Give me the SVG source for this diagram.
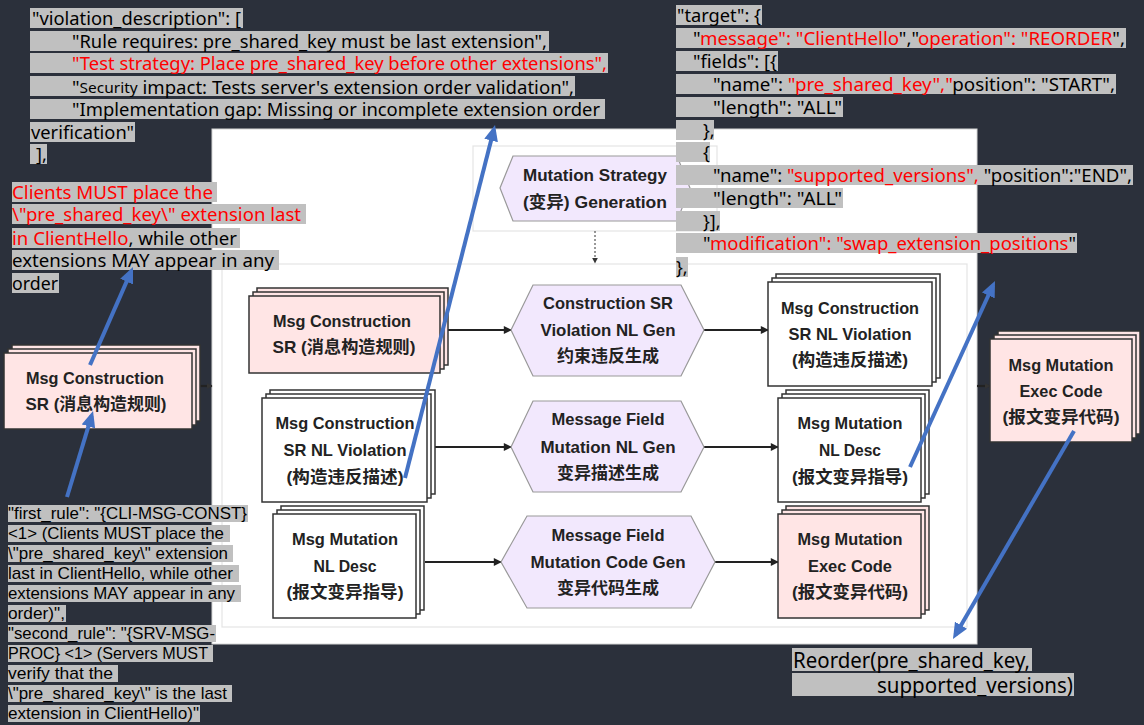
<svg xmlns="http://www.w3.org/2000/svg" width="1144" height="725" viewBox="0 0 1144 725">
<defs>
<style>
.bg{fill:#2b303b}
.panel{fill:#ffffff;stroke:#d6d6d6;stroke-width:1}
.frame{fill:#ffffff;stroke:#e4e4e4;stroke-width:1.2}
.pink{fill:#ffe5e5;stroke:#333;stroke-width:1.5}
.white{fill:#ffffff;stroke:#333;stroke-width:1.5}
.hex{fill:#f2e8fd;stroke:#999;stroke-width:1.2}
.n{font-family:"Liberation Sans","Noto Sans CJK SC",sans-serif;font-size:17px;font-weight:bold;fill:#222;text-anchor:middle;dominant-baseline:central}
.j{font-family:"Noto Sans","Liberation Sans","Noto Sans CJK SC",sans-serif;font-size:18px;fill:#000;dominant-baseline:central}
.s{font-family:"Liberation Sans",sans-serif;font-size:17px;fill:#000;dominant-baseline:central}
.b{font-family:"Noto Sans","Liberation Sans",sans-serif;font-size:21px;fill:#000;dominant-baseline:central}
.r{fill:#ff0000}
.hl{fill:#c0c0c0}
.conn{stroke:#222;stroke-width:2.2;fill:none}
.dot{stroke:#333;stroke-width:1;stroke-dasharray:2,2;fill:none}
.blue{stroke:#4472c4;stroke-width:4;fill:none}
</style>
<marker id="ah" viewBox="0 0 10 10" refX="9" refY="5" markerWidth="9" markerHeight="8" markerUnits="userSpaceOnUse" orient="auto"><path d="M0,0 L10,5 L0,10 z" fill="#222"/></marker>
<marker id="ahs" viewBox="0 0 10 10" refX="9" refY="5" markerWidth="6" markerHeight="6" markerUnits="userSpaceOnUse" orient="auto"><path d="M0,0 L10,5 L0,10 z" fill="#333"/></marker>
<marker id="bh" viewBox="0 0 16 14" refX="11" refY="7" markerWidth="16" markerHeight="14" markerUnits="userSpaceOnUse" orient="auto"><path d="M0,0 L16,7 L0,14 z" fill="#4472c4"/></marker>
</defs>

<rect class="bg" x="0" y="0" width="1144" height="725"/>

<g id="panel">
<rect class="panel" x="212" y="129" width="765" height="515"/>
<rect class="frame" x="473" y="146" width="244" height="85"/>
<rect class="frame" x="222" y="264" width="745" height="363"/>
</g>

<g id="connectors">
<line class="conn" x1="447" y1="330" x2="511" y2="330" marker-end="url(#ah)"/>
<line class="conn" x1="704" y1="330" x2="768" y2="330" marker-end="url(#ah)"/>
<line class="conn" x1="435" y1="447" x2="511" y2="447" marker-end="url(#ah)"/>
<line class="conn" x1="704" y1="447" x2="778" y2="447" marker-end="url(#ah)"/>
<line class="conn" x1="425" y1="562" x2="501" y2="562" marker-end="url(#ah)"/>
<line class="conn" x1="715" y1="562" x2="778" y2="562" marker-end="url(#ah)"/>
<line class="dot" x1="595" y1="231" x2="595" y2="263" marker-end="url(#ahs)"/>
<line class="conn" x1="200" y1="386" x2="212" y2="386" stroke-width="2.5" marker-end="url(#ahs)"/>
<line class="conn" x1="977" y1="386" x2="990" y2="386" stroke-width="2.5" marker-end="url(#ahs)"/>
</g>

<g id="n_outer_left">
<rect class="pink" x="12" y="345" width="188" height="76"/>
<rect class="pink" x="8" y="349" width="188" height="76"/>
<rect class="pink" x="4" y="353" width="188" height="76"/>
<text class="n" x="95" y="378" textLength="138" lengthAdjust="spacingAndGlyphs">Msg Construction</text>
<text class="n" x="96" y="404" textLength="141" lengthAdjust="spacingAndGlyphs">SR (消息构造规则)</text>
</g>

<g id="n_strategy">
<polygon class="hex" points="500,188 513,156 677,156 690,188 677,221 513,221"/>
<text class="n" x="595" y="175" textLength="144" lengthAdjust="spacingAndGlyphs">Mutation Strategy</text>
<text class="n" x="595" y="202" textLength="144" lengthAdjust="spacingAndGlyphs">(变异) Generation</text>
</g>

<g id="n_r1_left">
<rect class="pink" x="257" y="288" width="191" height="77"/>
<rect class="pink" x="253" y="292" width="191" height="77"/>
<rect class="pink" x="249" y="296" width="191" height="77"/>
<text class="n" x="342" y="321" textLength="138" lengthAdjust="spacingAndGlyphs">Msg Construction</text>
<text class="n" x="344" y="347" textLength="143" lengthAdjust="spacingAndGlyphs">SR (消息构造规则)</text>
</g>

<g id="n_r1_hex">
<polygon class="hex" points="511,330 533,285 681,285 704,330 681,376 533,376"/>
<text class="n" x="608" y="303" textLength="130" lengthAdjust="spacingAndGlyphs">Construction SR</text>
<text class="n" x="608" y="330" textLength="135" lengthAdjust="spacingAndGlyphs">Violation NL Gen</text>
<text class="n" x="608" y="356">约束违反生成</text>
</g>

<g id="n_r1_right">
<rect class="white" x="776" y="274" width="164" height="104"/>
<rect class="white" x="772" y="278" width="164" height="104"/>
<rect class="white" x="768" y="282" width="164" height="104"/>
<text class="n" x="850" y="308" textLength="138" lengthAdjust="spacingAndGlyphs">Msg Construction</text>
<text class="n" x="850" y="334" textLength="123" lengthAdjust="spacingAndGlyphs">SR NL Violation</text>
<text class="n" x="850" y="360" textLength="116" lengthAdjust="spacingAndGlyphs">(构造违反描述)</text>
</g>

<g id="n_r2_left">
<rect class="white" x="270" y="390" width="165" height="104"/>
<rect class="white" x="266" y="394" width="165" height="104"/>
<rect class="white" x="262" y="398" width="165" height="104"/>
<text class="n" x="345" y="423" textLength="139" lengthAdjust="spacingAndGlyphs">Msg Construction</text>
<text class="n" x="345" y="450" textLength="123" lengthAdjust="spacingAndGlyphs">SR NL Violation</text>
<text class="n" x="345" y="477" textLength="117" lengthAdjust="spacingAndGlyphs">(构造违反描述)</text>
</g>

<g id="n_r2_hex">
<polygon class="hex" points="511,447 533,401 681,401 704,447 681,492 533,492"/>
<text class="n" x="608" y="419" textLength="113" lengthAdjust="spacingAndGlyphs">Message Field</text>
<text class="n" x="608" y="447" textLength="135" lengthAdjust="spacingAndGlyphs">Mutation NL Gen</text>
<text class="n" x="608" y="473">变异描述生成</text>
</g>

<g id="n_r2_right">
<rect class="white" x="786" y="390" width="143" height="104"/>
<rect class="white" x="782" y="394" width="143" height="104"/>
<rect class="white" x="778" y="398" width="143" height="104"/>
<text class="n" x="850" y="423" textLength="105" lengthAdjust="spacingAndGlyphs">Msg Mutation</text>
<text class="n" x="850" y="450" textLength="62" lengthAdjust="spacingAndGlyphs">NL Desc</text>
<text class="n" x="850" y="477" textLength="116" lengthAdjust="spacingAndGlyphs">(报文变异指导)</text>
</g>

<g id="n_r3_left">
<rect class="white" x="281" y="506" width="143" height="104"/>
<rect class="white" x="277" y="510" width="143" height="104"/>
<rect class="white" x="273" y="514" width="143" height="104"/>
<text class="n" x="345" y="539" textLength="106" lengthAdjust="spacingAndGlyphs">Msg Mutation</text>
<text class="n" x="345" y="566" textLength="63" lengthAdjust="spacingAndGlyphs">NL Desc</text>
<text class="n" x="345" y="592" textLength="117" lengthAdjust="spacingAndGlyphs">(报文变异指导)</text>
</g>

<g id="n_r3_hex">
<polygon class="hex" points="501,562 527,516 691,516 715,562 691,608 527,608"/>
<text class="n" x="608" y="535" textLength="113" lengthAdjust="spacingAndGlyphs">Message Field</text>
<text class="n" x="608" y="562" textLength="155" lengthAdjust="spacingAndGlyphs">Mutation Code Gen</text>
<text class="n" x="608" y="588">变异代码生成</text>
</g>

<g id="n_r3_right">
<rect class="pink" x="786" y="506" width="143" height="104"/>
<rect class="pink" x="782" y="510" width="143" height="104"/>
<rect class="pink" x="778" y="514" width="143" height="104"/>
<text class="n" x="850" y="539" textLength="105" lengthAdjust="spacingAndGlyphs">Msg Mutation</text>
<text class="n" x="850" y="566" textLength="84" lengthAdjust="spacingAndGlyphs">Exec Code</text>
<text class="n" x="850" y="592" textLength="116" lengthAdjust="spacingAndGlyphs">(报文变异代码)</text>
</g>

<g id="n_outer_right">
<rect class="pink" x="998" y="331" width="142" height="103"/>
<rect class="pink" x="994" y="335" width="142" height="103"/>
<rect class="pink" x="990" y="339" width="142" height="103"/>
<text class="n" x="1061" y="365" textLength="105" lengthAdjust="spacingAndGlyphs">Msg Mutation</text>
<text class="n" x="1061" y="391" textLength="83" lengthAdjust="spacingAndGlyphs">Exec Code</text>
<text class="n" x="1061" y="417" textLength="117" lengthAdjust="spacingAndGlyphs">(报文变异代码)</text>
</g>

<g id="txt_violation">
<rect class="hl" x="30" y="8" width="213" height="20"/>
<rect class="hl" x="30" y="31" width="519" height="20"/>
<rect class="hl" x="30" y="53" width="578" height="20"/>
<rect class="hl" x="30" y="76" width="545" height="20"/>
<rect class="hl" x="30" y="99" width="575" height="20"/>
<rect class="hl" x="30" y="122" width="105" height="20"/>
<rect class="hl" x="30" y="144" width="17" height="20"/>
<text class="j" x="32" y="17.5" textLength="209" lengthAdjust="spacingAndGlyphs">"violation_description": [</text>
<text class="j" x="72" y="40.5" textLength="475" lengthAdjust="spacingAndGlyphs">"Rule requires: pre_shared_key must be last extension",</text>
<text class="j r" x="72" y="63" textLength="535" lengthAdjust="spacingAndGlyphs">"Test strategy: Place pre_shared_key before other extensions",</text>
<text class="j" x="72" y="86.5" textLength="502" lengthAdjust="spacingAndGlyphs">"<tspan font-size="15">Security</tspan> impact: Tests server's extension order validation",</text>
<text class="j" x="72" y="109" textLength="528" lengthAdjust="spacingAndGlyphs">"Implementation gap: Missing or incomplete extension order</text>
<text class="j" x="31" y="132" textLength="103" lengthAdjust="spacingAndGlyphs">verification"</text>
<text class="j" x="36" y="154">],</text>
</g>

<g id="txt_clients">
<rect class="hl" x="12" y="182" width="205" height="20"/>
<rect class="hl" x="12" y="204" width="294" height="20"/>
<rect class="hl" x="12" y="228" width="228" height="20"/>
<rect class="hl" x="12" y="250" width="267" height="20"/>
<rect class="hl" x="12" y="273" width="47" height="20"/>
<text class="j r" x="12" y="191.5" textLength="201" lengthAdjust="spacingAndGlyphs">Clients MUST place the</text>
<text class="j r" x="12" y="214" textLength="289" lengthAdjust="spacingAndGlyphs">\"pre_shared_key\" extension last</text>
<text class="j" x="12" y="237.5" textLength="225" lengthAdjust="spacingAndGlyphs"><tspan class="r">in ClientHello</tspan>, while other</text>
<text class="j" x="12" y="260" textLength="262" lengthAdjust="spacingAndGlyphs">extensions MAY appear in any</text>
<text class="j" x="12" y="283" textLength="46" lengthAdjust="spacingAndGlyphs">order</text>
</g>

<g id="txt_target">
<rect class="hl" x="676" y="5" width="86" height="20"/>
<rect class="hl" x="676" y="28" width="450" height="20"/>
<rect class="hl" x="676" y="51" width="102" height="20"/>
<rect class="hl" x="676" y="74" width="440" height="20"/>
<rect class="hl" x="676" y="97" width="167" height="20"/>
<rect class="hl" x="676" y="120" width="38" height="20"/>
<rect class="hl" x="676" y="142" width="34" height="20"/>
<rect class="hl" x="676" y="165" width="457" height="20"/>
<rect class="hl" x="676" y="188" width="167" height="20"/>
<rect class="hl" x="676" y="211" width="44" height="20"/>
<rect class="hl" x="676" y="233" width="401" height="20"/>
<rect class="hl" x="676" y="257" width="12" height="20"/>
<text class="j" x="677" y="14.5" textLength="84" lengthAdjust="spacingAndGlyphs">"target": {</text>
<text class="j" x="693" y="37.5" textLength="432" lengthAdjust="spacingAndGlyphs">"<tspan class="r">message": "ClientHello</tspan>","<tspan class="r">operation": "REORDER</tspan>",</text>
<text class="j" x="693" y="61" textLength="84" lengthAdjust="spacingAndGlyphs">"fields": [{</text>
<text class="j" x="713" y="83.5" textLength="402" lengthAdjust="spacingAndGlyphs">"name": <tspan class="r">"pre_shared_key","</tspan>position": "START",</text>
<text class="j" x="713" y="106.5" textLength="129" lengthAdjust="spacingAndGlyphs">"length": "ALL"</text>
<text class="j" x="703" y="129.5">},</text>
<text class="j" x="703" y="151.5">{</text>
<text class="j" x="713" y="174.5" textLength="419" lengthAdjust="spacingAndGlyphs">"name": <tspan class="r">"supported_versions",</tspan> "position":"END",</text>
<text class="j" x="713" y="197.5" textLength="129" lengthAdjust="spacingAndGlyphs">"length": "ALL"</text>
<text class="j" x="703" y="221">}],</text>
<text class="j" x="703" y="243" textLength="373" lengthAdjust="spacingAndGlyphs">"<tspan class="r">modification": "swap_extension_positions</tspan>"</text>
<text class="j" x="676" y="266.5">},</text>
</g>

<g id="txt_rules">
<rect class="hl" x="8" y="505" width="240" height="17"/>
<rect class="hl" x="8" y="525" width="222" height="17"/>
<rect class="hl" x="8" y="545" width="225" height="17"/>
<rect class="hl" x="8" y="565" width="231" height="17"/>
<rect class="hl" x="8" y="585" width="233" height="17"/>
<rect class="hl" x="8" y="605" width="58" height="17"/>
<rect class="hl" x="8" y="625" width="208" height="17"/>
<rect class="hl" x="8" y="645" width="205" height="17"/>
<rect class="hl" x="8" y="665" width="110" height="17"/>
<rect class="hl" x="8" y="685" width="224" height="17"/>
<rect class="hl" x="8" y="705" width="192" height="17"/>
<text class="s" x="8" y="513.5" textLength="239" lengthAdjust="spacingAndGlyphs">"first_rule": "{CLI-MSG-CONST}</text>
<text class="s" x="8" y="533.5" textLength="216" lengthAdjust="spacingAndGlyphs">&lt;1&gt; (Clients MUST place the</text>
<text class="s" x="8" y="553.5" textLength="220" lengthAdjust="spacingAndGlyphs">\"pre_shared_key\" extension</text>
<text class="s" x="8" y="573.5" textLength="225" lengthAdjust="spacingAndGlyphs">last in ClientHello, while other</text>
<text class="s" x="8" y="593.5" textLength="227" lengthAdjust="spacingAndGlyphs">extensions MAY appear in any</text>
<text class="s" x="8" y="613.5" textLength="57" lengthAdjust="spacingAndGlyphs">order)",</text>
<text class="s" x="8" y="633.5" textLength="207" lengthAdjust="spacingAndGlyphs">"second_rule": "{SRV-MSG-</text>
<text class="s" x="8" y="653.5" textLength="200" lengthAdjust="spacingAndGlyphs">PROC} &lt;1&gt; (Servers MUST</text>
<text class="s" x="8" y="673.5" textLength="105" lengthAdjust="spacingAndGlyphs">verify that the</text>
<text class="s" x="8" y="693.5" textLength="219" lengthAdjust="spacingAndGlyphs">\"pre_shared_key\" is the last</text>
<text class="s" x="8" y="713.5" textLength="191" lengthAdjust="spacingAndGlyphs">extension in ClientHello)"</text>
</g>

<g id="txt_reorder">
<rect class="hl" x="792" y="648" width="240" height="23"/>
<rect class="hl" x="792" y="673" width="282" height="23"/>
<text class="b" x="793" y="659.5" textLength="237" lengthAdjust="spacingAndGlyphs">Reorder(pre_shared_key,</text>
<text class="b" x="877" y="684.5" textLength="196" lengthAdjust="spacingAndGlyphs">supported_versions)</text>
</g>

<g id="annotation_arrows">
<line class="blue" x1="90" y1="365" x2="131" y2="271.6" marker-end="url(#bh)"/>
<line class="blue" x1="67" y1="497" x2="91.6" y2="415.8" marker-end="url(#bh)"/>
<line class="blue" x1="405" y1="478" x2="493.8" y2="129.8" marker-end="url(#bh)"/>
<line class="blue" x1="910" y1="467" x2="992.9" y2="285.5" marker-end="url(#bh)"/>
<line class="blue" x1="1074" y1="431" x2="955.5" y2="634.7" marker-end="url(#bh)"/>
</g>
</svg>
